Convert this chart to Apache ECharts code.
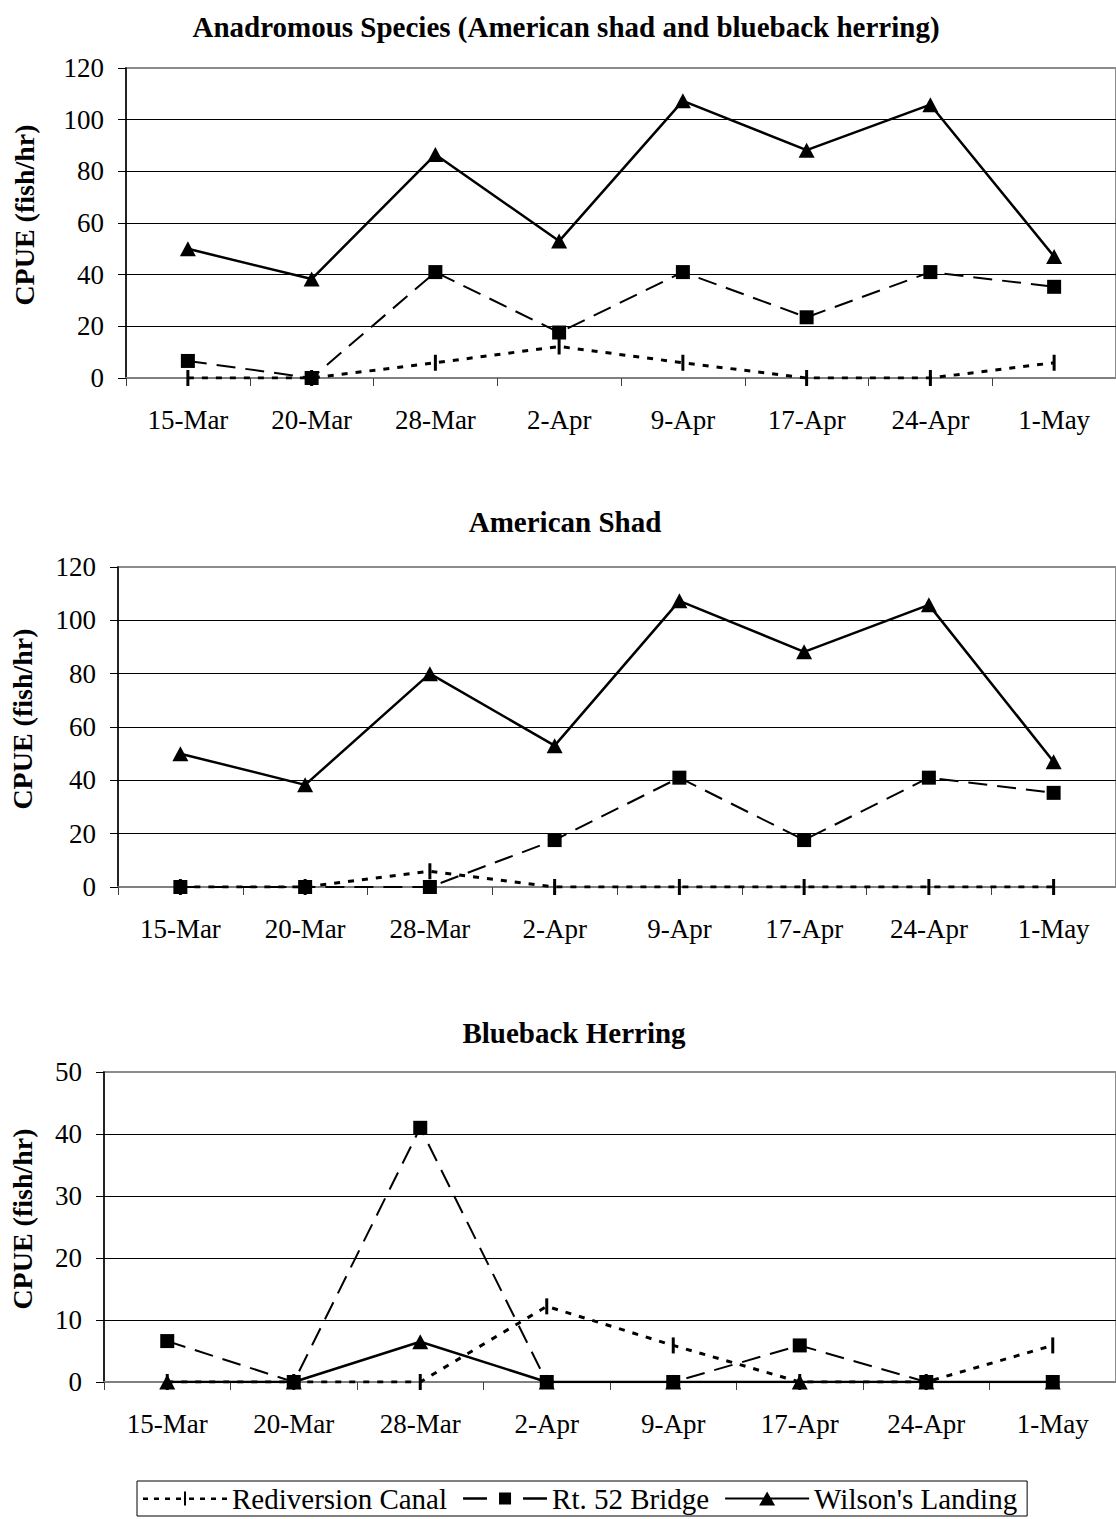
<!DOCTYPE html>
<html>
<head>
<meta charset="utf-8">
<script src="https://cdn.jsdelivr.net/npm/echarts@6/dist/echarts.min.js"></script>
<style>
html,body{margin:0;padding:0;background:#fff;}
#chart{width:1116px;height:1519px;}
</style>
</head>
<body>
<div id="chart"></div>
<script>
var categories = ['15-Mar', '20-Mar', '28-Mar', '2-Apr', '9-Apr', '17-Apr', '24-Apr', '1-May'];
var seriesNames = ['Rediversion Canal', 'Rt. 52 Bridge', "Wilson's Landing"];
var panelTitles = ['Anadromous Species (American shad and blueback herring)', 'American Shad', 'Blueback Herring'];
var yAxisName = 'CPUE (fish/hr)';
var yMax = [120, 120, 50];
var yInterval = [20, 20, 10];

// Panel 1: all anadromous species
var totalRediversion = [0, 0, 5.9, 12.2, 5.9, 0, 0, 5.9];
var totalRt52 = [6.6, 0, 41, 17.6, 41, 23.5, 41, 35.3];
var totalWilson = [50, 38.3, 86.5, 53, 107.3, 88.2, 105.8, 47];

// Panel 2: American shad
var shadRediversion = [0, 0, 5.9, 0, 0, 0, 0, 0];
var shadRt52 = [0, 0, 0, 17.6, 41, 17.6, 41, 35.3];
var shadWilson = [50, 38.3, 80, 53, 107.3, 88.2, 105.8, 47];

// Panel 3: Blueback herring
var bluebackRediversion = [0, 0, 0, 12.2, 5.9, 0, 0, 5.9];
var bluebackRt52 = [6.6, 0, 41, 0, 0, 5.9, 0, 0];
var bluebackWilson = [0, 0, 6.5, 0, 0, 0, 0, 0];

var panelData = [
  [totalRediversion, totalRt52, totalWilson],
  [shadRediversion, shadRt52, shadWilson],
  [bluebackRediversion, bluebackRt52, bluebackWilson]
];

var FONT = "'Liberation Serif', 'Times New Roman', serif";
var grids = [
  {left: 126, top: 68, width: 994, height: 310},
  {left: 116, top: 567, width: 1002, height: 320},
  {left: 104, top: 1072, width: 1019, height: 310}
];
var nameGaps = [88, 82, 68];
var titleTops = [12, 507, 1018];
var titleCenters = [566, 565, 574];

var seriesStyles = [
  {symbol: 'path://M0,0H2V10H0Z', symbolSize: [3, 16], lineStyle: {type: [6, 8], width: 3, color: '#000'}},
  {symbol: 'rect', symbolSize: 14, lineStyle: {type: [19, 10], width: 2, color: '#000'}},
  {symbol: 'triangle', symbolSize: [16, 15], lineStyle: {type: 'solid', width: 2.5, color: '#000'}}
];

// legend key shapes (line sample + marker), drawn in an 84 x 14 box
var legendIcons = [
  'path://M0,6H5V8.5H0Z M11,6H16V8.5H11Z M22,6H27V8.5H22Z M33,6H38V8.5H33Z M41,0H43V14H41Z M46,6H51V8.5H46Z M57,6H62V8.5H57Z M68,6H73V8.5H68Z M79,6H84V8.5H79Z',
  'path://M0,5.8H24V8.2H0Z M36,1H48V13H36Z M60,5.8H84V8.2H60Z',
  'path://M0,6H84V8H0Z M42,0L50,14H34Z'
];

var option = {
  backgroundColor: '#fff',
  animation: false,
  textStyle: {fontFamily: FONT, color: '#000'},
  title: panelTitles.map(function (t, i) {
    return {
      text: t, left: titleCenters[i], top: titleTops[i], textAlign: 'center', padding: 0,
      textStyle: {fontFamily: FONT, fontSize: 29, fontWeight: 'bold', color: '#000'}
    };
  }),
  grid: grids.map(function (g) {
    return {left: g.left, top: g.top, width: g.width, height: g.height, show: true,
      borderColor: '#8c8c8c', borderWidth: 2, backgroundColor: 'transparent'};
  }),
  legend: {
    data: seriesNames.map(function (n, i) { return {name: n, icon: legendIcons[i]}; }),
    left: 137, top: 1481,
    itemWidth: 84, itemHeight: 14, itemGap: 16,
    padding: [3, 10, 3, 6],
    borderColor: '#000', borderWidth: 1,
    itemStyle: {color: '#000', borderWidth: 0},
    textStyle: {fontFamily: FONT, fontSize: 29, color: '#000'}
  },
  xAxis: grids.map(function (g, i) {
    return {
      type: 'category', gridIndex: i, data: categories, boundaryGap: true,
      axisLine: {show: true, lineStyle: {color: '#808080', width: 2}},
      axisTick: {show: true, length: 8, lineStyle: {color: '#404040', width: 1}},
      axisLabel: {fontFamily: FONT, fontSize: 27, color: '#000', margin: 28, interval: 0},
      splitLine: {show: false}
    };
  }),
  yAxis: grids.map(function (g, i) {
    var n = yMax[i] / yInterval[i] + 1;
    var cols = [];
    for (var k = 0; k < n; k++) cols.push(k === 0 || k === n - 1 ? '#8c8c8c' : '#000');
    return {
      type: 'value', gridIndex: i, min: 0, max: yMax[i], interval: yInterval[i],
      name: yAxisName, nameLocation: 'middle', nameGap: nameGaps[i],
      nameTextStyle: {fontFamily: FONT, fontSize: 28, fontWeight: 'bold', color: '#000', padding: [0, 0, 0, 16]},
      axisLine: {show: true, lineStyle: {color: '#000', width: 1.5}},
      axisTick: {show: true, length: 8, lineStyle: {color: '#000', width: 1}},
      axisLabel: {fontFamily: FONT, fontSize: 27, color: '#000', margin: 22},
      splitLine: {show: true, lineStyle: {color: cols, width: 1}}
    };
  }),
  series: []
};

panelData.forEach(function (arrs, p) {
  arrs.forEach(function (vals, s) {
    var st = seriesStyles[s];
    option.series.push({
      type: 'line', name: seriesNames[s], xAxisIndex: p, yAxisIndex: p,
      data: vals,
      symbol: st.symbol, symbolSize: st.symbolSize, showAllSymbol: true,
      itemStyle: {color: '#000', borderWidth: 0},
      lineStyle: st.lineStyle,
      emphasis: {disabled: true},
      z: 2 + s
    });
  });
});

var chart = echarts.init(document.getElementById('chart'), null, {renderer: 'svg'});
chart.setOption(option);
</script>
</body>
</html>
